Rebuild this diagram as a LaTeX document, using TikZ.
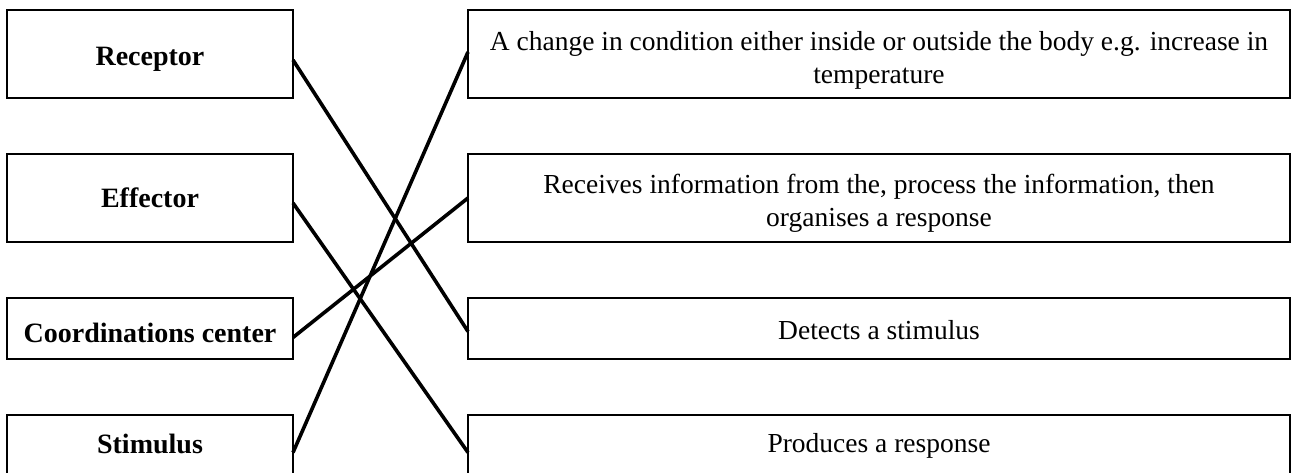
\documentclass[tikz,border=0pt]{standalone}
\usepackage{fontspec}
\setmainfont{Liberation Serif}
\newcommand{\lowerby}[2]{\raisebox{-#1}[\height][\depth]{#2}}
\begin{document}
\begin{tikzpicture}[x=1pt,y=-1pt,
  box/.style={draw, line width=2.3pt, inner sep=0pt, outer sep=0pt, align=center},
  lbox/.style={box, minimum width=286pt, font=\fontsize{28}{33}\selectfont\bfseries},
  rbox/.style={box, minimum width=822pt, font=\fontsize{27.5}{33}\selectfont},
  tall/.style={minimum height=88pt},
  short/.style={minimum height=61pt},
  link/.style={line width=3.6pt}]
\useasboundingbox (0,0) rectangle (1292,473);
\clip (0,0) rectangle (1292,473);
\node[lbox, tall] (rec) at (150,54) {\lowerby{5pt}{Receptor}};
\node[lbox, tall] (eff) at (150,198) {Effector};
\node[lbox, short] (coo) at (150,328.5) {\lowerby{4pt}{Coordinations center}};
\node[lbox, short] (sti) at (150,445.5) {\lowerby{-2pt}{Stimulus}};
\node[rbox, tall] (chg) at (879,54) {\lowerby{6pt}{\begin{tabular}{@{}c@{}}A change in condition either inside or outside the body e.g. increase in\\temperature\end{tabular}}};
\node[rbox, tall] (rcv) at (879,198) {\lowerby{5pt}{\begin{tabular}{@{}c@{}}Receives information from the, process the information, then\\organises a response\end{tabular}}};
\node[rbox, short] (det) at (879,328.5) {\lowerby{2pt}{Detects a stimulus}};
\node[rbox, short] (pro) at (879,445.5) {Produces a response};
\draw[link] ([yshift=-6pt]rec.east) -- ([yshift=-3pt]det.west);
\draw[link] ([yshift=-5pt]eff.east) -- ([yshift=-7pt]pro.west);
\draw[link] ([yshift=-9pt]coo.east) -- (rcv.west);
\draw[link] ([yshift=-7pt]sti.east) -- ([yshift=2pt]chg.west);
\end{tikzpicture}
\end{document}
